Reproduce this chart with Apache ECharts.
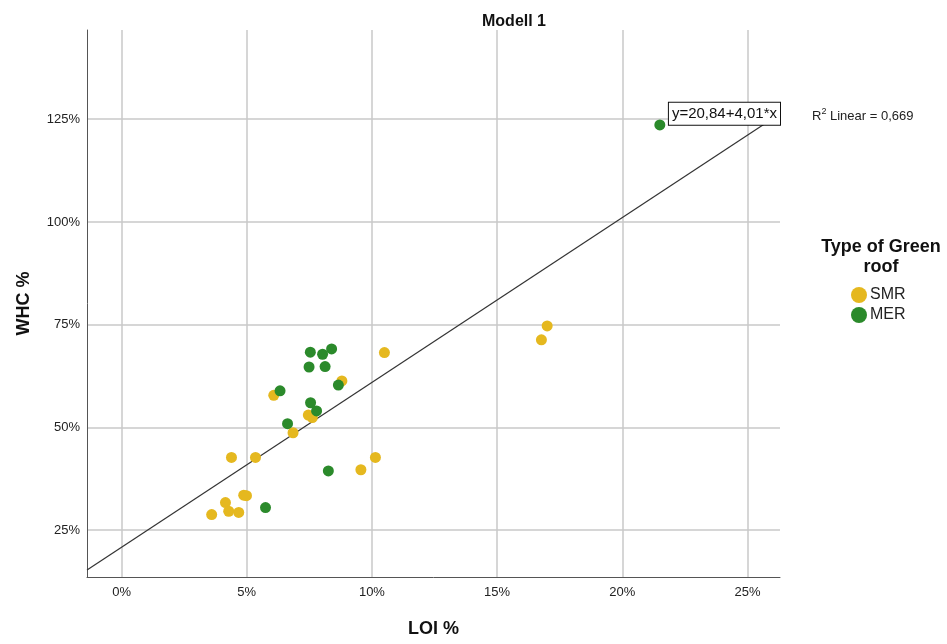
<!DOCTYPE html>
<html lang="de">
<head>
<meta charset="UTF-8">
<title>Modell 1</title>
<script src="https://cdn.jsdelivr.net/npm/echarts@6/dist/echarts.min.js"></script>
<style>
    html, body { margin: 0; padding: 0; background: #fff; }
    #chart { width: 947px; height: 644px; }
</style>
</head>
<body>
<div id="chart"></div>
<script>
// LOI % (x) and WHC % (y), one pair of arrays per roof type
const smrLoi = [10.5, 8.8, 6.08, 7.46, 7.62, 6.85, 4.39, 5.35, 10.14, 9.56, 4.88, 4.99, 4.15, 4.28, 4.68, 3.6, 17.0, 16.77];
const smrWhc = [68.2, 61.3, 57.8, 53.0, 52.4, 48.7, 42.7, 42.7, 42.7, 39.7, 33.5, 33.4, 31.7, 29.6, 29.3, 28.8, 74.7, 71.3];
const merLoi = [7.54, 8.03, 8.39, 7.49, 8.13, 8.66, 6.33, 7.55, 7.79, 6.63, 8.26, 5.75, 21.5];
const merWhc = [68.3, 67.8, 69.1, 64.7, 64.8, 60.3, 58.9, 56.0, 54.0, 50.9, 39.4, 30.5, 123.6];

// fit line from the chart's label
const fitIntercept = 20.84;
const fitSlope = 4.01;
const fitText = 'y=20,84+4,01*x';
const r2Text = '0,669';

const xMin = -1.38, xMax = 26.3;
const yMin = 13.6, yMax = 146.7;

const groups = ['SMR', 'MER'];
const colors = ['#E5B81F', '#2B8A2B'];

function pairs(xs, ys) {
    return xs.map((x, i) => [x, ys[i]]);
}
const fitData = [
    [xMin, fitIntercept + fitSlope * xMin],
    [xMax, fitIntercept + fitSlope * xMax]
];

const font = '"Liberation Sans", Arial, sans-serif';
const chart = echarts.init(document.getElementById('chart'));

chart.setOption({
    animation: false,
    textStyle: { fontFamily: font },
    title: [
        {
            text: 'Modell 1', left: 477, top: 9,
            textStyle: { fontSize: 16, fontWeight: 'bold', color: '#111' }
        },
        {
            text: 'Type of Green\nroof', left: 876, top: 232, textAlign: 'center',
            textStyle: { fontSize: 18, fontWeight: 'bold', color: '#111', lineHeight: 20 }
        },
        {
            text: '{r|R}{s|2}{r| Linear = ' + r2Text + '}', left: 807, top: 102,
            textStyle: {
                fontWeight: 'normal',
                rich: {
                    r: { fontSize: 13, fontWeight: 'normal', color: '#222', fontFamily: font, verticalAlign: 'bottom', lineHeight: 16 },
                    s: { fontSize: 9, fontWeight: 'normal', color: '#222', fontFamily: font, verticalAlign: 'top', lineHeight: 16 }
                }
            }
        }
    ],
    legend: {
        data: groups,
        orient: 'vertical',
        left: 846, top: 282,
        icon: 'circle',
        itemWidth: 16, itemHeight: 16, itemGap: 4,
        textStyle: { fontSize: 16, color: '#222', padding: [0, 0, 0, -2] }
    },
    grid: { left: 87, right: 167, top: 30, bottom: 67, containLabel: false },
    xAxis: {
        type: 'value',
        min: xMin, max: xMax,
        minInterval: 5, maxInterval: 5,
        name: 'LOI %', nameLocation: 'middle', nameGap: 43,
        nameTextStyle: { fontSize: 18, fontWeight: 'bold', color: '#111' },
        axisLine: { show: true, onZero: false, lineStyle: { color: '#555', width: 1 } },
        axisTick: { show: false },
        axisLabel: {
            fontSize: 13, color: '#222', margin: 9,
            showMinLabel: false, showMaxLabel: false,
            formatter: v => (Math.abs(v % 5) < 1e-6 ? v + '%' : '')
        },
        splitLine: { show: true, showMinLine: false, showMaxLine: false, lineStyle: { color: '#c8c8c8', width: 1.5 } }
    },
    yAxis: {
        type: 'value',
        min: yMin, max: yMax,
        minInterval: 25, maxInterval: 25,
        name: 'WHC %', nameLocation: 'middle', nameGap: 54,
        nameTextStyle: { fontSize: 18, fontWeight: 'bold', color: '#111' },
        axisLine: { show: true, onZero: false, lineStyle: { color: '#555', width: 1 } },
        axisTick: { show: false },
        axisLabel: {
            fontSize: 13, color: '#222', margin: 7,
            showMinLabel: false, showMaxLabel: false,
            formatter: v => (Math.abs(v % 25) < 1e-6 ? v + '%' : '')
        },
        splitLine: { show: true, showMinLine: false, showMaxLine: false, lineStyle: { color: '#c8c8c8', width: 1.5 } }
    },
    series: [
        {
            name: 'SMR', type: 'scatter',
            data: pairs(smrLoi, smrWhc),
            symbolSize: 11,
            itemStyle: { color: colors[0], opacity: 1 },
            z: 3
        },
        {
            name: 'MER', type: 'scatter',
            data: pairs(merLoi, merWhc),
            symbolSize: 11,
            itemStyle: { color: colors[1], opacity: 1 },
            z: 4
        },
        {
            name: 'fit', type: 'line',
            data: fitData,
            showSymbol: false, symbol: 'none',
            lineStyle: { color: '#333', width: 1.2 },
            silent: true, z: 2,
            markPoint: {
                silent: true,
                symbol: 'circle', symbolSize: 0,
                data: [{
                    coord: fitData[1],
                    label: {
                        show: true, position: 'left', distance: 0,
                        formatter: fitText,
                        fontSize: 15, color: '#111', fontFamily: font,
                        backgroundColor: '#fff', borderColor: '#111', borderWidth: 1,
                        padding: [4, 3, 3, 3]
                    }
                }]
            }
        }
    ]
});

window.addEventListener('resize', function () {
    chart.resize();
});
</script>
</body>
</html>
